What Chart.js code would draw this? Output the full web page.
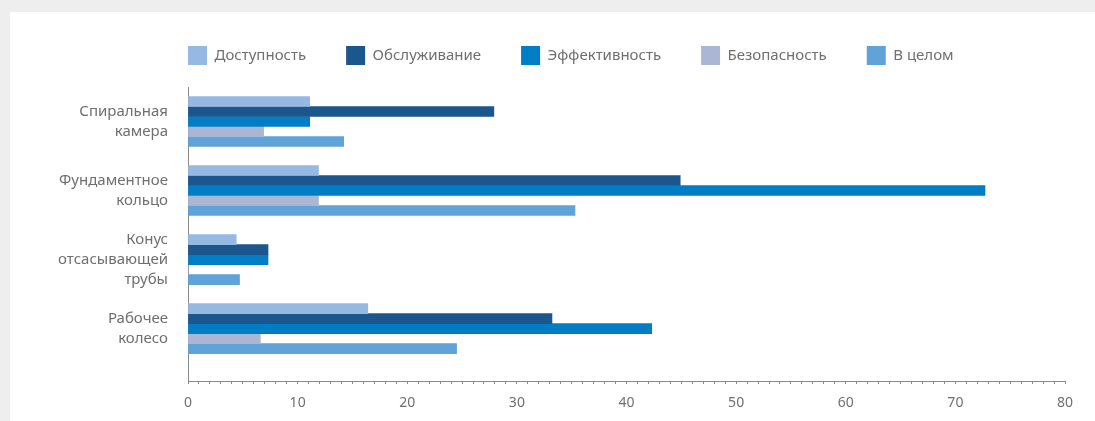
<!DOCTYPE html>
<html>
<head>
<meta charset="utf-8">
<script src="https://cdn.jsdelivr.net/npm/chart.js@4.4.0/dist/chart.umd.min.js"></script>
<style>
  html, body { margin: 0; padding: 0; background: #eeeeee; width: 1095px; height: 421px; overflow: hidden; }
  #panel { position: absolute; left: 10px; top: 12px; width: 1085px; height: 409px; background: #ffffff; }
</style>
</head>
<body>
<div id="panel"><canvas id="c"></canvas></div>
<script>
// ---- data ----
const categories = [
  ['Спиральная', 'камера'],
  ['Фундаментное', 'кольцо'],
  ['Конус', 'отсасывающей', 'трубы'],
  ['Рабочее', 'колесо']
];
const seriesNames = ['Доступность', 'Обслуживание', 'Эффективность', 'Безопасность', 'В целом'];
const dostupnost    = [11.1, 11.9, 4.4, 16.4];
const obsluzhivanie = [27.9, 44.9, 7.3, 33.2];
const effektivnost  = [11.1, 72.7, 7.3, 42.3];
const bezopasnost   = [6.9, 11.9, 0, 6.6];
const vTselom       = [14.2, 35.3, 4.7, 24.5];
const xTickLabels = [0, 10, 20, 30, 40, 50, 60, 70, 80];

const seriesValues = [dostupnost, obsluzhivanie, effektivnost, bezopasnost, vTselom];
const seriesColors = ['#95b9e3', '#1b568c', '#007dc5', '#aab6d3', '#5fa3d9'];

Chart.defaults.font.family = "'Noto Sans', sans-serif";
Chart.defaults.font.size = 15;
Chart.defaults.color = '#6f6f6f';

const datasets = seriesNames.map((name, s) => ({
  label: name,
  data: seriesValues[s].map((v, i) => ({ x: v, y: i })),
  backgroundColor: seriesColors[s],
  borderWidth: 0,
  barThickness: 10
}));

const legendPlacement = {
  id: 'legendPlacement',
  beforeInit(chart) {
    const origFit = chart.legend.fit;
    chart.legend.fit = function () {
      origFit.bind(chart.legend)();
      this.height = 75;
    };
  },
  afterLayout(chart) {
    chart.legend.left = 138;
    chart.legend.top = -6;
  }
};

new Chart(document.getElementById('c'), {
  type: 'bar',
  data: { datasets },
  plugins: [legendPlacement],
  options: {
    indexAxis: 'y',
    responsive: true,
    maintainAspectRatio: false,
    animation: false,
    layout: { padding: { left: 0, top: 0, right: 30, bottom: 0 } },
    plugins: {
      legend: {
        position: 'top',
        align: 'start',
        labels: { boxWidth: 19, boxHeight: 19, padding: 40, color: '#6f6f6f', font: { size: 15 } }
      },
      tooltip: { enabled: false }
    },
    scales: {
      y: {
        type: 'linear',
        reverse: true,
        offset: false,
        min: -0.5,
        max: 3.76,
        afterBuildTicks(scale) { scale.ticks = categories.map((c, i) => ({ value: i })); },
        afterFit(scale) { scale.width = 178; },
        grid: { display: false, drawTicks: false, offset: false },
        border: { display: true, color: '#8a8a8a', width: 1 },
        ticks: {
          padding: 20,
          color: '#6f6f6f',
          font: { size: 15, lineHeight: 1.33 },
          callback: (v) => categories[v] || ''
        }
      },
      x: {
        type: 'linear',
        min: 0,
        max: 80,
        afterFit(scale) { scale.height = 39; },
        grid: { display: true, drawOnChartArea: false, drawTicks: true, tickLength: 3, color: '#8a8a8a', tickColor: '#8a8a8a' },
        border: { display: true, color: '#8a8a8a', width: 1 },
        ticks: {
          stepSize: 1,
          autoSkip: false,
          maxRotation: 0,
          minRotation: 0,
          padding: 11,
          color: '#6f6f6f',
          font: { size: 14 },
          callback: (v) => (xTickLabels.includes(v) ? String(v) : '')
        }
      }
    }
  }
});
</script>
</body>
</html>
